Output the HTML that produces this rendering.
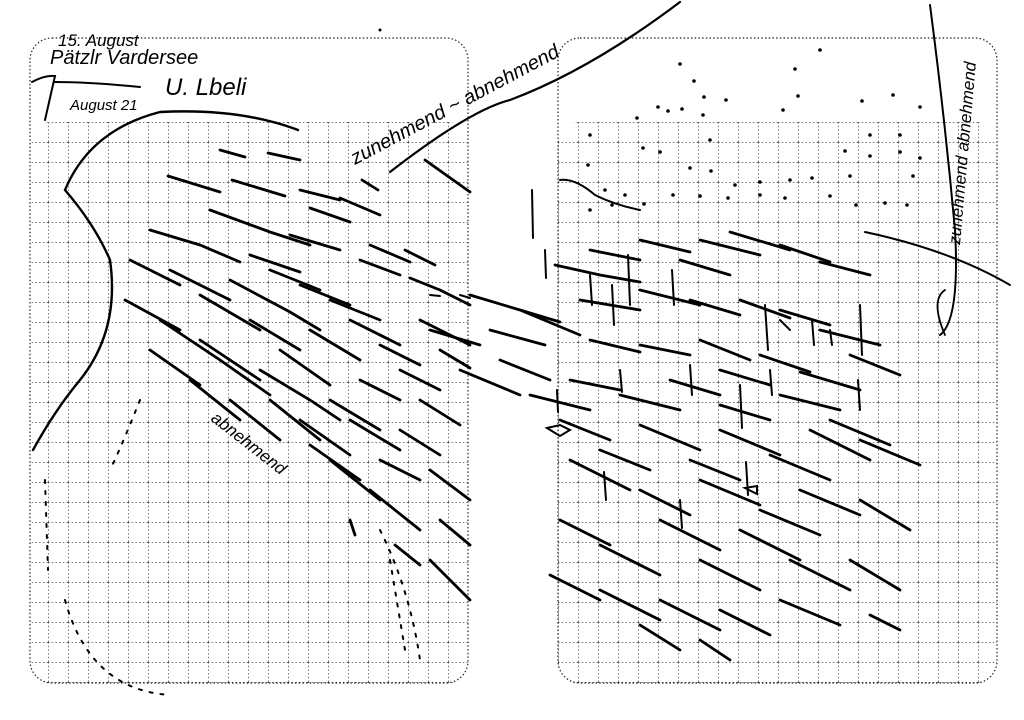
<!DOCTYPE html>
<html><head><style>html,body{margin:0;padding:0;background:#fff}svg{display:block}</style></head>
<body>
<svg width="1024" height="720" viewBox="0 0 1024 720" xmlns="http://www.w3.org/2000/svg">
<defs>
<pattern id="g" x="8" y="2" width="20" height="20" patternUnits="userSpaceOnUse">
<path d="M0 0H20M0 0V20" stroke="#222" stroke-width="1.2" stroke-dasharray="1.5 2.2" fill="none"/>
</pattern>
<pattern id="g2" x="18" y="2" width="20" height="20" patternUnits="userSpaceOnUse">
<path d="M0 0H20M0 0V20" stroke="#222" stroke-width="1.2" stroke-dasharray="1.5 2.2" fill="none"/>
</pattern>
<clipPath id="c1"><rect x="30" y="122" width="438" height="561" rx="20"/></clipPath>
<clipPath id="c2"><rect x="558" y="122" width="439" height="561" rx="20"/></clipPath>
</defs>
<rect x="30" y="38" width="438" height="645" rx="22" fill="none" stroke="#222" stroke-width="1.2" stroke-dasharray="1.5 2.2"/>
<rect x="558" y="38" width="439" height="645" rx="22" fill="none" stroke="#222" stroke-width="1.2" stroke-dasharray="1.5 2.2"/>
<rect x="30" y="122" width="438" height="561" fill="url(#g)" clip-path="url(#c1)"/>
<rect x="558" y="122" width="439" height="561" fill="url(#g2)" clip-path="url(#c2)"/>

<g fill="none" stroke="#000" stroke-width="2.8" stroke-linecap="round">
<text x="58" y="46" font-family="Liberation Sans,sans-serif" font-style="italic" font-size="17" fill="#000" stroke="none">15. August</text>
<text x="50" y="64" font-family="Liberation Sans,sans-serif" font-style="italic" font-size="20" fill="#000" stroke="none">Pätzlr Vardersee</text>
<text x="70" y="110" font-family="Liberation Sans,sans-serif" font-style="italic" font-size="15" fill="#000" stroke="none">August 21</text>
<text x="165" y="95" font-family="Liberation Sans,sans-serif" font-style="italic" font-size="24" fill="#000" stroke="none">U. Lbeli</text>
<path d="M32 82 Q45 75 55 76 L45 120 M55 82 Q90 82 140 87" stroke-width="2"/>
<text transform="translate(355,165) rotate(-28)" font-family="Liberation Sans,sans-serif" font-style="italic" font-size="20" fill="#000" stroke="none">zunehmend ~ abnehmend</text>
<text transform="translate(960,245) rotate(-85)" font-family="Liberation Sans,sans-serif" font-style="italic" font-size="17" fill="#000" stroke="none">zunehmend abnehmend</text>
<text transform="translate(210,420) rotate(38)" font-family="Liberation Sans,sans-serif" font-style="italic" font-size="17" fill="#000" stroke="none">abnehmend</text>
<path d="M390 172 Q470 110 510 100 Q590 70 680 2" stroke-width="2.2"/>
<path d="M930 5 Q945 120 955 230 Q960 320 940 335" stroke-width="2"/>
<path d="M865 232 Q950 250 1010 285" stroke-width="2"/>
<path d="M298 130 Q240 108 160 112 Q90 130 65 190 Q95 225 110 260 Q120 330 80 380 Q55 410 33 450" stroke-width="2.4"/>
<path d="M560 180 Q575 178 595 195 Q615 205 640 210" stroke-width="2"/>
<path d="M220 150 L245 157 M268 153 L300 160 M168 176 L220 192 M232 180 L285 196 M300 190 L340 200 M362 180 L378 190 M425 160 L470 192"/>
<path d="M150 230 L200 245 L240 262 M210 210 L270 232 L310 245 M250 255 L300 272 M290 235 L340 250 M310 208 L350 222 M340 198 L380 215 M370 245 L410 262 M405 250 L435 265"/>
<path d="M130 260 L180 285 M170 270 L230 300 M200 295 L260 330 M230 280 L290 312 L320 330 M270 270 L320 290 M300 285 L350 305 M330 300 L380 320 M360 260 L400 275 M410 278 L440 290 M440 290 L470 305"/>
<path d="M125 300 L180 330 M160 320 L220 360 M200 340 L260 380 M250 320 L300 350 M280 350 L330 385 M310 330 L360 360 M350 320 L400 345 M380 345 L420 365 M420 320 L470 345"/>
<path d="M150 350 L200 385 M190 380 L240 420 M230 400 L280 440 M260 370 L310 400 L340 420 M300 420 L350 455 M330 400 L380 430 M360 380 L400 400 M400 370 L440 390 M440 350 L470 368"/>
<path d="M220 360 L270 395 M270 400 L320 440 M310 445 L360 480 M350 420 L400 450 M380 460 L420 480 M400 430 L440 455 M430 470 L470 500 M420 400 L460 425"/>
<path d="M330 460 L380 500 M370 490 L420 530 M350 520 L355 535 M395 545 L420 565 M430 560 L470 600 M440 520 L470 545"/>
<path d="M430 295 L440 296 M460 295 L470 298" stroke-width="2"/>
<g stroke-width="2" stroke-dasharray="3 8">
<path d="M140 400 Q120 450 110 470"/>
<path d="M380 530 Q410 590 420 660"/>
<path d="M390 560 Q400 620 405 650"/>
<path d="M65 600 Q90 690 170 695"/>
<path d="M45 480 L48 570"/>
</g>
<path d="M470 295 L520 310 L560 322 M490 330 L545 345 M520 310 L580 335 M500 360 L550 380 M430 330 L480 345 M460 370 L520 395 M530 395 L590 410"/>
<path d="M555 265 L600 275 L640 282 M590 250 L640 260 M640 240 L690 252 M680 260 L730 275 M700 240 L760 255 M730 232 L790 250 M780 245 L830 262 M820 262 L870 275"/>
<path d="M580 300 L640 310 M640 290 L700 305 M690 300 L740 315 M740 300 L790 318 M780 310 L830 325 M820 330 L880 345"/>
<path d="M590 340 L640 352 M640 345 L690 355 M700 340 L750 360 M720 370 L770 385 M760 355 L810 372 M800 372 L860 390 M850 355 L900 375"/>
<path d="M570 380 L620 390 M620 395 L680 410 M670 380 L720 395 M720 405 L770 420 M780 395 L840 410 M830 420 L890 445"/>
<path d="M560 420 L610 440 M600 450 L650 470 M640 425 L700 450 M690 460 L740 480 M720 430 L780 455 M770 455 L830 480 M810 430 L870 460 M860 440 L920 465"/>
<path d="M570 460 L630 490 M640 490 L690 515 M700 480 L760 505 M760 510 L820 535 M800 490 L860 515 M860 500 L910 530"/>
<path d="M560 520 L610 545 M600 545 L660 575 M660 520 L720 550 M700 560 L760 590 M740 530 L800 560 M790 560 L850 590 M850 560 L900 590"/>
<path d="M550 575 L600 600 M600 590 L660 620 M660 600 L720 630 M720 610 L770 635 M780 600 L840 625 M870 615 L900 630"/>
<path d="M640 625 L680 650 M700 640 L730 660"/>
<path d="M532 190 L533 238 M545 250 L546 278 M628 255 L630 305 M590 275 L592 305 M612 285 L614 325 M672 270 L674 305 M765 305 L768 350 M812 320 L814 345 M860 305 L862 355 M740 385 L742 428 M746 462 L748 495 M858 380 L860 410 M620 370 L622 392 M557 390 L558 412 M604 472 L606 500 M680 500 L682 528 M690 365 L692 395 M770 370 L772 395 M780 320 L790 330 M830 330 L832 345" stroke-width="2"/>
<path d="M547 428 L560 425 L570 430 L560 436 Z M745 488 L757 486 L757 494 Z" stroke-width="2"/>
<path d="M945 290 Q930 300 945 335" stroke-width="1.8"/>
</g>
<g fill="#000">
<circle cx="680" cy="64" r="1.8"/><circle cx="694" cy="81" r="1.8"/><circle cx="704" cy="97" r="1.8"/><circle cx="726" cy="100" r="1.8"/><circle cx="658" cy="107" r="1.8"/><circle cx="668" cy="111" r="1.8"/><circle cx="682" cy="109" r="1.8"/><circle cx="703" cy="115" r="1.8"/><circle cx="795" cy="69" r="1.8"/><circle cx="798" cy="96" r="1.8"/><circle cx="783" cy="110" r="1.8"/><circle cx="862" cy="101" r="1.8"/><circle cx="893" cy="95" r="1.8"/><circle cx="920" cy="107" r="1.8"/><circle cx="637" cy="118" r="1.8"/><circle cx="590" cy="135" r="1.8"/><circle cx="643" cy="148" r="1.8"/><circle cx="660" cy="152" r="1.8"/><circle cx="690" cy="168" r="1.8"/><circle cx="711" cy="171" r="1.8"/><circle cx="735" cy="185" r="1.8"/><circle cx="760" cy="182" r="1.8"/><circle cx="790" cy="180" r="1.8"/><circle cx="812" cy="178" r="1.8"/><circle cx="850" cy="176" r="1.8"/><circle cx="870" cy="156" r="1.8"/><circle cx="900" cy="152" r="1.8"/><circle cx="920" cy="158" r="1.8"/><circle cx="913" cy="176" r="1.8"/><circle cx="845" cy="151" r="1.8"/><circle cx="605" cy="190" r="1.8"/><circle cx="625" cy="195" r="1.8"/><circle cx="673" cy="195" r="1.8"/><circle cx="700" cy="196" r="1.8"/><circle cx="728" cy="198" r="1.8"/><circle cx="760" cy="195" r="1.8"/><circle cx="785" cy="198" r="1.8"/><circle cx="830" cy="196" r="1.8"/><circle cx="856" cy="205" r="1.8"/><circle cx="885" cy="203" r="1.8"/><circle cx="907" cy="205" r="1.8"/><circle cx="590" cy="210" r="1.8"/><circle cx="612" cy="205" r="1.8"/><circle cx="644" cy="204" r="1.8"/><circle cx="710" cy="140" r="1.8"/><circle cx="870" cy="135" r="1.8"/><circle cx="900" cy="135" r="1.8"/><circle cx="588" cy="165" r="1.8"/>
<circle cx="380" cy="30" r="1.5"/><circle cx="820" cy="50" r="1.8"/>
</g>
</svg>
</body></html>
